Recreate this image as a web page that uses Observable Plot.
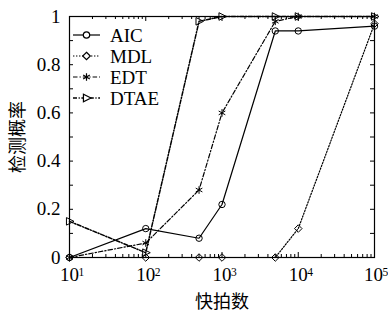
<!DOCTYPE html>
<html><head><meta charset="utf-8">
<script src="https://cdn.jsdelivr.net/npm/d3@7"></script>
<script src="https://cdn.jsdelivr.net/npm/@observablehq/plot@0.6"></script>
<style>
body{margin:0;background:#fff;}
#chart{position:relative;width:388px;height:318px;}
#legend{position:absolute;left:0;top:0;pointer-events:none;}
#chart svg text{fill:#000;}
.cjk{font-family:"Noto Sans CJK SC",sans-serif;font-size:18px;font-weight:400;fill:#000;}
</style></head><body><div id="chart"></div>
<script>
// ---- data ----
const snapshots = [10, 100, 500, 1000, 5000, 10000, 100000];
const aic  = [0, 0.12, 0.08, 0.22, 0.94, 0.94, 0.96];
const mdl  = [0, 0, 0, 0, 0, 0.12, 0.97];
const edt  = [0, 0.06, 0.28, 0.60, 0.98, 1, 1];
const dtae = [0.15, 0.02, 0.98, 1, 1, 1, 1];
const seriesNames = ["AIC", "MDL", "EDT", "DTAE"];
const xTickValues = [10, 100, 1000, 10000, 100000];
const xTickExponents = ["1", "2", "3", "4", "5"];
const yTickValues = [0, 0.2, 0.4, 0.6, 0.8, 1];
const yTickLabels = ["0", "0.2", "0.4", "0.6", "0.8", "1"];
const xLabel = "快拍数";
const yLabel = "检测概率";

// ---- styling ----
const triRight = {draw(ctx, size) {
  const r = Math.sqrt(size / Math.PI);
  ctx.moveTo(r * 1.25, 0);
  ctx.lineTo(-r * 0.85, -r * 1.05);
  ctx.lineTo(-r * 0.85, r * 1.05);
  ctx.closePath();
}};
const seriesStyle = {
  AIC:  {dash: null,            symbol: "circle",   r: 3.2, width: 1.2},
  MDL:  {dash: "1.4,1.6",       symbol: "diamond2", r: 3.4, width: 1.2},
  EDT:  {dash: "4.5,2,1.3,2",   symbol: "asterisk", r: 3.6, width: 1.2},
  DTAE: {dash: "4,1.6,1.2,1.6", symbol: triRight,   r: 3.6, width: 1.5}
};
const seriesData = {AIC: aic, MDL: mdl, EDT: edt, DTAE: dtae};

const rowsOf = name => snapshots.map((s, i) => ({series: name, x: s, y: seriesData[name][i]}));

const W = 388, H = 318, mL = 69, mR = 14, mT = 16, mB = 61;
const iw = W - mL - mR, ih = H - mT - mB;
const minorX = [];
for (let d = 1; d < 5; d++) for (let k = 2; k <= 9; k++) minorX.push(k * 10 ** d);
const minorY = d3.range(0, 11).map(i => i / 10);

const lineMarks = seriesNames.map(n => Plot.line(rowsOf(n), {
  x: "x", y: "y", stroke: "black", strokeWidth: seriesStyle[n].width,
  strokeDasharray: seriesStyle[n].dash, strokeLinejoin: "miter"
}));
const dotMarks = seriesNames.map(n => Plot.dot(rowsOf(n), {
  x: "x", y: "y", symbol: seriesStyle[n].symbol, r: seriesStyle[n].r,
  stroke: "black", strokeWidth: 1,
  ...(n === "EDT" ? {} : {fill: "white", fillOpacity: 0})
}));

const chart = Plot.plot({
  width: W, height: H,
  marginLeft: mL, marginRight: mR, marginTop: mT, marginBottom: mB,
  x: {type: "log", domain: [10, 1e5]},
  y: {domain: [0, 1]},
  style: {fontFamily: "'Liberation Serif', serif", fontSize: "19px", background: "white", color: "black"},
  marks: [
    Plot.axisX({ticks: xTickValues, tickFormat: d => "10", tickSize: 0, tickPadding: 10, label: xLabel, labelAnchor: "center", labelOffset: 50, labelArrow: "none"}),
    Plot.axisY({ticks: yTickValues, tickFormat: d => yTickLabels[yTickValues.indexOf(d)], tickSize: 0, tickPadding: 9, label: yLabel, labelAnchor: "center", labelOffset: 58, labelArrow: "none"}),
    Plot.tickX(xTickValues, {x: d => d, insetTop: ih - 5, stroke: "black"}),
    Plot.tickX(xTickValues, {x: d => d, insetBottom: ih - 5, stroke: "black"}),
    Plot.tickX(minorX, {x: d => d, insetTop: ih - 3, stroke: "black"}),
    Plot.tickX(minorX, {x: d => d, insetBottom: ih - 3, stroke: "black"}),
    Plot.tickY(minorY, {y: d => d, insetRight: iw - 4, stroke: "black"}),
    Plot.tickY(minorY, {y: d => d, insetLeft: iw - 4, stroke: "black"}),
    ...lineMarks,
    ...dotMarks,
    Plot.frame({stroke: "black", strokeWidth: 1.2})
  ]
});
document.getElementById("chart").appendChild(chart);

// superscript exponents on x tick labels: "10" centred on the tick, exponent to its right
const svg = d3.select(chart);
svg.selectAll('g[aria-label="x-axis tick label"] text').each(function(d, i) {
  const t = d3.select(this);
  t.text("10").attr("text-anchor", "start").attr("dx", i === xTickValues.length - 1 ? -10.5 : -9.5);
  t.append("tspan").attr("dy", "-0.45em").attr("dx", "-0.5").attr("font-size", "11.5px").text(xTickExponents[i]);
});
svg.selectAll('g[aria-label="x-axis label"] text, g[aria-label="y-axis label"] text').attr("class", "cjk").attr("fill", "#000");

// legend overlay
const lg = d3.select("#chart").append("svg").attr("id", "legend").attr("width", W).attr("height", H);
const rowY = [35, 56, 77, 98];
seriesNames.forEach((n, i) => {
  const st = seriesStyle[n];
  const g = lg.append("g").attr("transform", `translate(0,${rowY[i]})`);
  g.append("line").attr("x1", 73).attr("x2", 100).attr("y1", 0).attr("y2", 0)
    .attr("stroke", "black").attr("stroke-width", st.width).attr("stroke-dasharray", st.dash);
  const symType = typeof st.symbol === "string"
    ? {circle: d3.symbolCircle, diamond2: d3.symbolDiamond2, asterisk: d3.symbolAsterisk}[st.symbol]
    : st.symbol;
  g.append("path").attr("transform", "translate(86.5,0)")
    .attr("d", d3.symbol(symType, st.r * st.r * Math.PI)())
    .attr("fill", n === "EDT" ? "none" : "white").attr("stroke", "black").attr("stroke-width", 1.2);
  g.append("text").attr("x", 110).attr("y", 0).attr("dy", "0.35em")
    .attr("font-family", "'Liberation Serif', serif").attr("font-size", "19px").attr("fill", "#000").text(n);
});
</script></body></html>
